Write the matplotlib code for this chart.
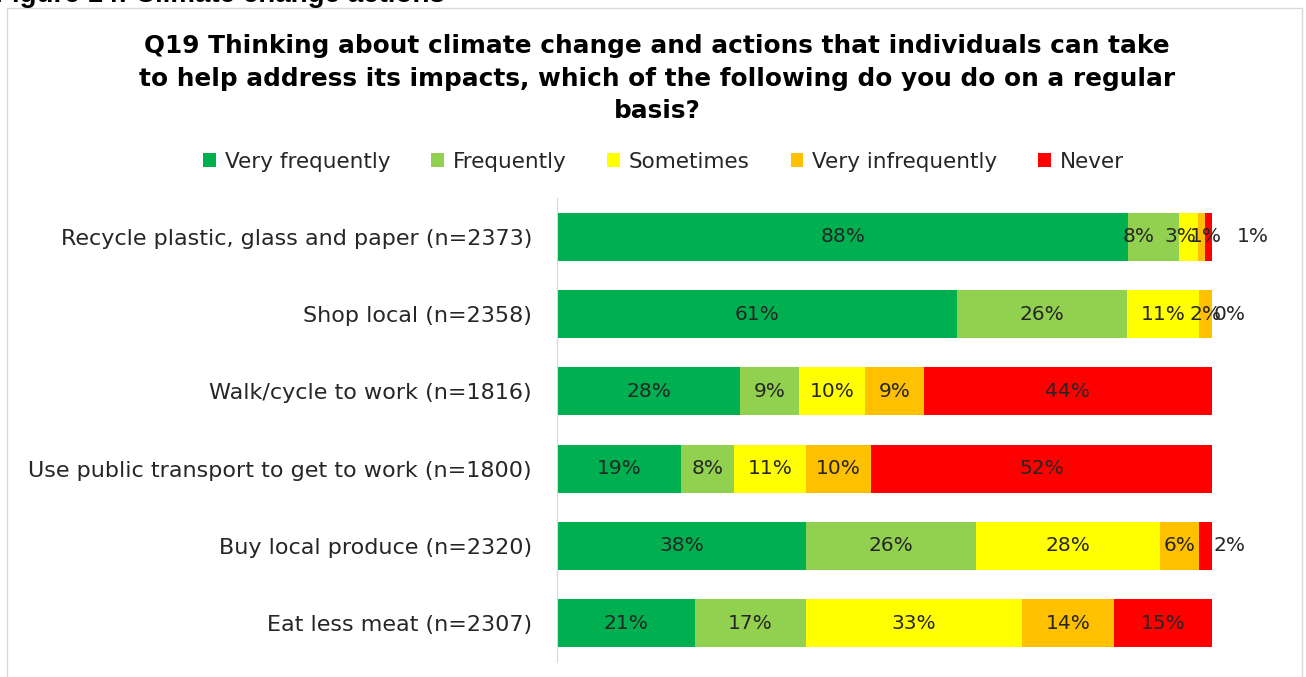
import matplotlib.pyplot as plt
from matplotlib.patches import Rectangle

categories = ["Recycle plastic, glass and paper (n=2373)",
              "Shop local (n=2358)",
              "Walk/cycle to work (n=1816)",
              "Use public transport to get to work (n=1800)",
              "Buy local produce (n=2320)",
              "Eat less meat (n=2307)"]
series = ["Very frequently", "Frequently", "Sometimes", "Very infrequently", "Never"]
# segment widths (%) as drawn; the printed labels are the rounded figures
very_frequently = [87.2, 61, 28, 19, 38, 21]
frequently = [7.8, 26, 9, 8, 26, 17]
sometimes = [2.9, 11, 10, 11, 28, 33]
very_infrequently = [1.1, 2, 9, 10, 6, 14]
never = [1.0, 0, 44, 52, 2, 15]
label_vf = ["88%", "61%", "28%", "19%", "38%", "21%"]
label_f = ["8%", "26%", "9%", "8%", "26%", "17%"]
label_s = ["3%", "11%", "10%", "11%", "28%", "33%"]
label_vi = ["1%", "2%", "9%", "10%", "6%", "14%"]
label_n = ["1%", "0%", "44%", "52%", "2%", "15%"]
colors = ["#00B050", "#92D050", "#FFFF00", "#FFC000", "#FF0000"]

plt.rcParams['font.family'] = ['DejaVu Sans']
txt = "#262626"

fig = plt.figure(figsize=(13.06, 6.77), dpi=100)
ax = fig.add_axes([0.4265, 0.0222, 0.5015, 0.6853])

data = [very_frequently, frequently, sometimes, very_infrequently, never]
labels = [label_vf, label_f, label_s, label_vi, label_n]
ypos = list(range(len(categories)))[::-1]
left = [0] * len(categories)
for k, (name, vals, labs, col) in enumerate(zip(series, data, labels, colors)):
    ax.barh(ypos, vals, left=left, height=0.62, color=col, label=name)
    for i, (y, l, v, lab) in enumerate(zip(ypos, left, vals, labs)):
        if name == "Never" and v <= 2:
            # tiny "Never" values sit just right of the bar
            x = l + v + (3.8 if i == 0 else 0.2)
            ax.text(x, y, lab, ha="left", va="center", fontsize=14.5, color=txt)
        else:
            x = l + v / 2
            if i == 0:
                x += [0, -2.3, -1.2, 0.6, 0][k]
            ax.text(x, y, lab, ha="center", va="center", fontsize=14.5, color=txt)
    left = [a + b for a, b in zip(left, vals)]

ax.set_xlim(0, 100)
ax.set_ylim(-0.5, len(categories) - 0.5)
ax.set_yticks(ypos)
ax.set_yticklabels(categories, fontsize=16, color=txt)
ax.tick_params(axis="y", length=0, pad=18)
ax.set_xticks([])
for s in ["top", "right", "bottom"]:
    ax.spines[s].set_visible(False)
ax.spines["left"].set_color("#D9D9D9")

fig.text(0.503, 0.884, "Q19 Thinking about climate change and actions that individuals can take\n"
         "to help address its impacts, which of the following do you do on a regular\nbasis?",
         ha="center", va="center", fontsize=17.8, fontweight="bold", linespacing=1.45)
fig.text(-0.004, 0.997, "Figure 14: Climate change actions", ha="left", va="baseline",
         fontsize=20, fontweight="bold", family=["Liberation Sans", "DejaVu Sans"])

handles, leg_labels = ax.get_legend_handles_labels()
fig.legend(handles, leg_labels, loc="center", bbox_to_anchor=(0.508, 0.761), ncol=5,
           frameon=False, fontsize=15.5, handlelength=0.6, handleheight=0.6,
           handletextpad=0.4, columnspacing=1.9, labelcolor=txt)

fig.patches.append(Rectangle((0.0055, -0.01), 0.9915, 0.998, transform=fig.transFigure,
                             fill=False, edgecolor="#D9D9D9", linewidth=1))

fig.savefig("out.png", dpi=100)
